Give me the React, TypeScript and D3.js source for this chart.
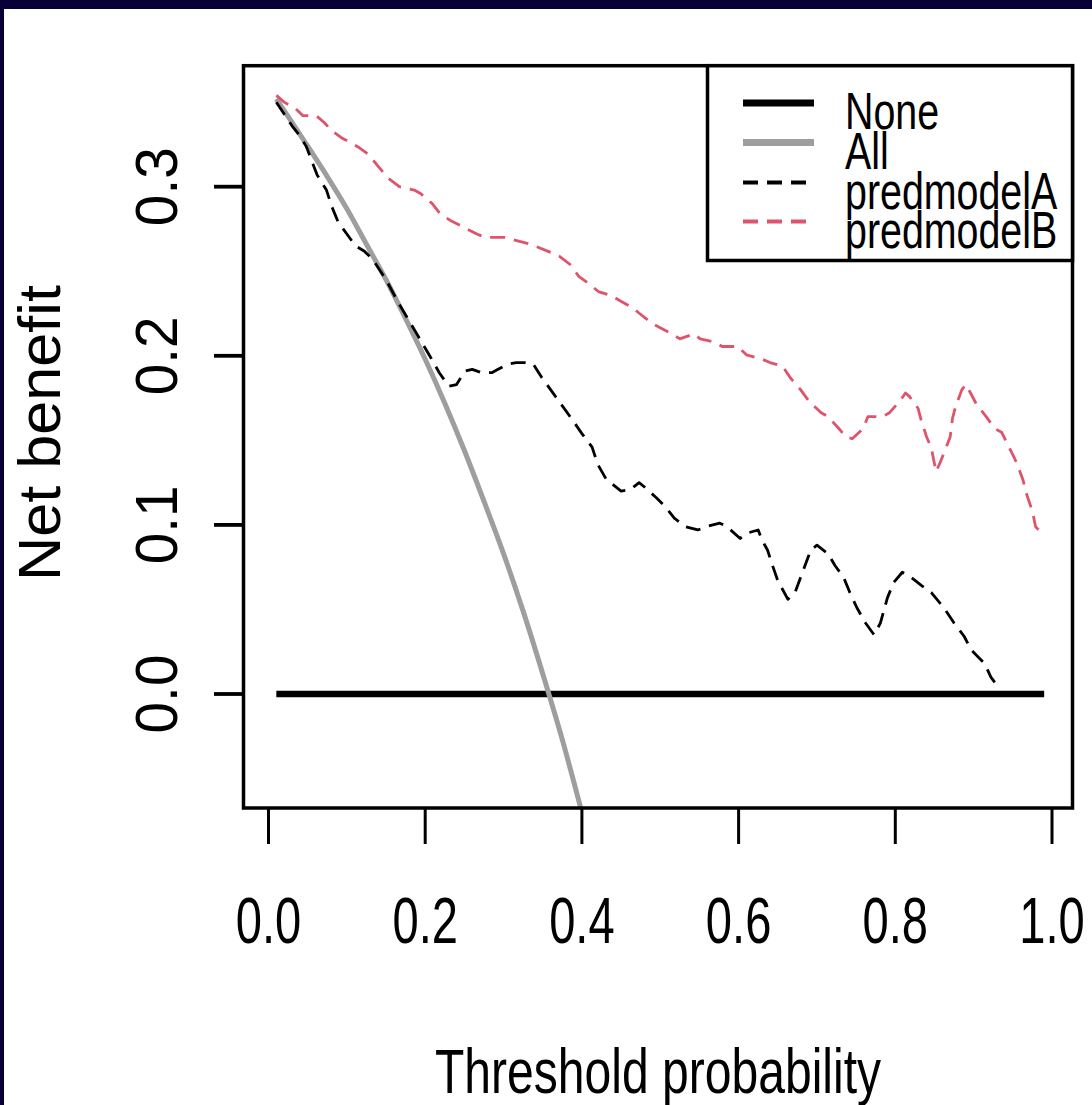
import React from 'react';
import * as d3 from 'd3';

// thresholds / net benefit
const xTicks = [0, 0.2, 0.4, 0.6, 0.8, 1.0];
const yTicks = [0, 0.1, 0.2, 0.3];
const noneX = [0.01, 0.99];
const noneY = [0, 0];
const allX = [0.01, 0.05, 0.075, 0.1, 0.125, 0.15, 0.175, 0.2, 0.225, 0.25, 0.275, 0.3, 0.325, 0.35, 0.375, 0.4, 0.42];
const allY = [0.352, 0.324, 0.306, 0.287, 0.266, 0.245, 0.222, 0.198, 0.172, 0.144, 0.114, 0.083, 0.049, 0.012, -0.027, -0.07, -0.105];
const modelAX = [
  0.01, 0.02, 0.03, 0.04, 0.048, 0.062, 0.074, 0.081, 0.089, 0.1, 0.111, 0.122, 0.133, 0.15, 0.165, 0.179,
  0.188, 0.207, 0.218, 0.23, 0.24, 0.251, 0.26, 0.272, 0.285, 0.293, 0.305, 0.316, 0.327, 0.338, 0.349, 0.36,
  0.371, 0.388, 0.4, 0.413, 0.42, 0.431, 0.45, 0.462, 0.473, 0.481, 0.495, 0.506, 0.518, 0.532, 0.548, 0.559,
  0.576, 0.585, 0.602, 0.61, 0.625, 0.63, 0.637, 0.644, 0.65, 0.663, 0.672, 0.68, 0.692, 0.7, 0.714, 0.723,
  0.734, 0.742, 0.751, 0.762, 0.773, 0.781, 0.79, 0.798, 0.809, 0.82, 0.834, 0.846, 0.862, 0.875, 0.888, 0.897,
  0.914, 0.922, 0.93,
];
const modelAY = [
  0.35, 0.343, 0.336, 0.33, 0.324, 0.307, 0.298, 0.288, 0.279, 0.272, 0.265, 0.262, 0.257, 0.245, 0.232, 0.221,
  0.214, 0.199, 0.19, 0.182, 0.183, 0.191, 0.192, 0.19, 0.19, 0.192, 0.195, 0.196, 0.196, 0.195, 0.187, 0.18,
  0.173, 0.162, 0.154, 0.146, 0.136, 0.127, 0.12, 0.121, 0.125, 0.122, 0.116, 0.111, 0.104, 0.099, 0.097, 0.099,
  0.101, 0.099, 0.092, 0.095, 0.097, 0.091, 0.085, 0.075, 0.067, 0.056, 0.06, 0.07, 0.085, 0.088, 0.083, 0.076,
  0.069, 0.06, 0.051, 0.042, 0.035, 0.042, 0.057, 0.066, 0.072, 0.069, 0.064, 0.06, 0.051, 0.042, 0.034, 0.026,
  0.018, 0.01, 0.005,
];
const modelBX = [
  0.01, 0.02, 0.035, 0.044, 0.061, 0.071, 0.081, 0.093, 0.105, 0.116, 0.128, 0.14, 0.153, 0.167, 0.186, 0.194,
  0.209, 0.219, 0.234, 0.245, 0.266, 0.277, 0.302, 0.318, 0.334, 0.361, 0.371, 0.385, 0.396, 0.408, 0.421, 0.438,
  0.447, 0.466, 0.472, 0.49, 0.515, 0.525, 0.543, 0.551, 0.57, 0.579, 0.599, 0.61, 0.63, 0.64, 0.656, 0.666,
  0.679, 0.69, 0.705, 0.714, 0.728, 0.737, 0.745, 0.759, 0.765, 0.784, 0.793, 0.807, 0.813, 0.818, 0.829, 0.833,
  0.84, 0.846, 0.852, 0.857, 0.865, 0.87, 0.873, 0.877, 0.885, 0.89, 0.896, 0.904, 0.916, 0.927, 0.936, 0.944,
  0.951, 0.955, 0.963, 0.967, 0.975, 0.979, 0.985,
];
const modelBY = [
  0.354, 0.35, 0.346, 0.342, 0.342, 0.338, 0.333, 0.329, 0.326, 0.323, 0.319, 0.312, 0.305, 0.3, 0.298, 0.296,
  0.29, 0.284, 0.2795, 0.277, 0.272, 0.27, 0.27, 0.268, 0.266, 0.261, 0.259, 0.254, 0.247, 0.243, 0.238, 0.2355,
  0.233, 0.228, 0.2256, 0.219, 0.213, 0.21, 0.213, 0.21, 0.208, 0.2055, 0.2055, 0.2006, 0.198, 0.196, 0.194, 0.187,
  0.18, 0.173, 0.1665, 0.164, 0.157, 0.152, 0.151, 0.157, 0.164, 0.164, 0.1665, 0.174, 0.178, 0.176, 0.169, 0.162,
  0.152, 0.1455, 0.1315, 0.1366, 0.146, 0.152, 0.163, 0.17, 0.18, 0.183, 0.178, 0.171, 0.164, 0.157, 0.1546, 0.147,
  0.1405, 0.1366, 0.1266, 0.119, 0.108, 0.099, 0.096,
];
const legendLabels = ['None', 'All', 'predmodelA', 'predmodelB'];

const W = 1092;
const H = 1105;
const box = { left: 243.5, right: 1072.5, top: 65.7, bottom: 808 };
const font = '"Liberation Sans", Arial, sans-serif';
const red = '#DF536B';
const grey = '#9E9E9E';

const x = d3.scaleLinear().domain([0, 1]).range([268.5, 1052]);
const y = d3.scaleLinear().domain([0, 0.3]).range([694, 186.7]);

const pts = (xs: number[], ys: number[]) => xs.map((v, i) => [v, ys[i]] as [number, number]);
const line = d3
  .line<[number, number]>()
  .x((d) => x(d[0]))
  .y((d) => y(d[1]));
const smooth = d3
  .line<[number, number]>()
  .x((d) => x(d[0]))
  .y((d) => y(d[1]))
  .curve(d3.curveMonotoneX);

const series = [
  { label: legendLabels[0], d: line(pts(noneX, noneY)), color: '#000', width: 6.5, dash: undefined },
  { label: legendLabels[1], d: smooth(pts(allX, allY)), color: grey, width: 5, dash: undefined },
  { label: legendLabels[2], d: line(pts(modelAX, modelAY)), color: '#000', width: 2.8, dash: '15 9' },
  { label: legendLabels[3], d: line(pts(modelBX, modelBY)), color: red, width: 2.8, dash: '15 9' },
];

export default function App() {
  const legRows = [103, 142.5, 182.5, 221.5];
  return (
    <div style={{ position: 'absolute', left: 0, top: 0, width: W, height: H }}>
      <svg width={W} height={H} style={{ display: 'block' }}>
        <rect x={0} y={0} width={W} height={H} fill="#070037" />
        <rect x={4} y={9} width={W - 4} height={H - 9} fill="#fff" />
        <defs>
          <clipPath id="plotclip">
            <rect x={box.left} y={box.top} width={box.right - box.left} height={box.bottom - box.top} />
          </clipPath>
        </defs>

        <g clipPath="url(#plotclip)">
          {series.map((s) => (
            <path
              key={s.label}
              d={s.d || ''}
              fill="none"
              stroke={s.color}
              strokeWidth={s.width}
              strokeDasharray={s.dash}
              strokeLinejoin="round"
            />
          ))}
        </g>

        {/* plot box */}
        <rect
          x={box.left}
          y={box.top}
          width={box.right - box.left}
          height={box.bottom - box.top}
          fill="none"
          stroke="#000"
          strokeWidth={3.5}
        />

        {/* x axis */}
        {xTicks.map((t) => (
          <g key={'x' + t}>
            <line x1={x(t)} x2={x(t)} y1={box.bottom} y2={844} stroke="#000" strokeWidth={3} />
            <text
              transform={`translate(${x(t)},943) scale(0.725,1)`}
              textAnchor="middle"
              fontFamily={font}
              fontSize={65}
            >
              {t.toFixed(1)}
            </text>
          </g>
        ))}

        {/* y axis */}
        {yTicks.map((t) => (
          <g key={'y' + t}>
            <line x1={214} x2={box.left} y1={y(t)} y2={y(t)} stroke="#000" strokeWidth={3.8} />
            <text
              transform={`translate(177,${y(t)}) rotate(-90) scale(0.97,1)`}
              textAnchor="middle"
              fontFamily={font}
              fontSize={58.5}
            >
              {t.toFixed(1)}
            </text>
          </g>
        ))}

        <text
          transform={`translate(658,1093) scale(0.763,1)`}
          textAnchor="middle"
          fontFamily={font}
          fontSize={63}
        >
          Threshold probability
        </text>
        <text
          transform={`translate(60,433) rotate(-90) scale(1.02,1)`}
          textAnchor="middle"
          fontFamily={font}
          fontSize={60}
        >
          Net benefit
        </text>

        {/* legend */}
        <rect x={707.5} y={box.top} width={box.right - 707.5} height={260.5 - box.top} fill="#fff" stroke="#000" strokeWidth={3.5} />
        {series.map((s, i) => (
          <g key={'leg' + s.label}>
            <line
              x1={743}
              x2={814}
              y1={legRows[i]}
              y2={legRows[i]}
              stroke={s.color}
              strokeWidth={i < 2 ? 7 : 4}
              strokeDasharray={s.dash}
            />
            <text
              transform={`translate(845,${legRows[i] + 26}) scale(0.75,1)`}
              fontFamily={font}
              fontSize={52.5}
            >
              {s.label}
            </text>
          </g>
        ))}
      </svg>
    </div>
  );
}
